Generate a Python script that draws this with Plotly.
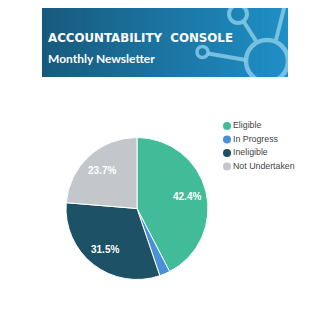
import math
import plotly.graph_objects as go

# Survey status breakdown
categories = ["Eligible", "In Progress", "Ineligible", "Not Undertaken"]
shares = [42.4, 2.4, 31.5, 23.7]
slice_colors = ["#41bb98", "#4a90d9", "#1d5266", "#c3c7cb"]

# Header banner text
title_text = "ACCOUNTABILITY  CONSOLE"
subtitle_text = "Monthly Newsletter"

W = H = 330
fig = go.Figure()

# Pie geometry in page pixels
cx, cy, r = 137, 208.5, 71
fig.add_trace(go.Pie(
    labels=categories, values=shares, sort=False, direction="clockwise",
    rotation=0, marker=dict(colors=slice_colors, line=dict(color="white", width=1)),
    textinfo="none", showlegend=False, hoverinfo="label+percent",
    domain=dict(x=[(cx - r) / W, (cx + r) / W], y=[(H - cy - r) / H, (H - cy + r) / H]),
))

# Percentage labels at 73% of the radius, on each slice's mid-angle
annotations = []
total = sum(shares)
acc = 0.0
for v in shares:
    mid = (acc + v / 2) / total * 2 * math.pi
    acc += v
    if v / total < 0.05:
        continue
    annotations.append(dict(
        text="%.1f%%" % (100 * v / total), xref="x3", yref="y3",
        x=cx + 0.73 * r * math.sin(mid), y=cy - 0.73 * r * math.cos(mid),
        showarrow=False, xanchor="center", yanchor="middle",
        font=dict(family="Liberation Sans", size=10, color="white", weight="bold"),
    ))

# Legend drawn as a marker column on a page-sized pixel axis
leg_x = 227
leg_y0, leg_dy = 126, 13.5
leg_y = [leg_y0 + i * leg_dy for i in range(len(categories))]
fig.add_trace(go.Scatter(
    x=[leg_x] * len(categories), y=leg_y,
    mode="markers", marker=dict(size=8, color=slice_colors, line=dict(width=0)),
    xaxis="x3", yaxis="y3", showlegend=False, hoverinfo="skip",
))
fig.add_trace(go.Scatter(
    x=[leg_x + 6] * len(categories), y=leg_y,
    mode="text", text=categories, textposition="middle right",
    textfont=dict(size=8.8, color="#444444", family="Liberation Sans"),
    xaxis="x3", yaxis="y3", showlegend=False, hoverinfo="skip",
))

# Banner box in pixel coordinates, gradient built from thin strips
bx0, bx1, by0, by1 = 42, 288, 8, 77
shapes = []
n = 100
c0 = (0x18, 0x5a, 0x7d)
c1 = (0x1f, 0x8f, 0xc6)
for i in range(n):
    t = i / (n - 1)
    col = tuple(round(a + (b - a) * t) for a, b in zip(c0, c1))
    xa = bx0 + (bx1 - bx0) * i / n
    xb = min(bx1, bx0 + (bx1 - bx0) * (i + 1) / n + 1.5)
    shapes.append(dict(type="rect", xref="x2", yref="y2", x0=xa, x1=xb, y0=by0, y1=by1,
                       fillcolor="rgb(%d,%d,%d)" % col, line=dict(width=0), layer="below"))

net = "rgba(135,202,230,0.85)"
# connector lines
for (xa, ya, xb, yb) in [(208, 53.5, 246, 60), (244, 22, 256, 41), (285, 4, 276, 40)]:
    shapes.append(dict(type="line", xref="x2", yref="y2", x0=xa, y0=ya, x1=xb, y1=yb,
                       line=dict(color=net, width=4), layer="below"))
# nodes
for (ncx, ncy, nr, w) in [(238, 14, 9, 4), (267, 61, 21, 4.5), (202.5, 52, 5.5, 3.5)]:
    shapes.append(dict(type="circle", xref="x2", yref="y2", x0=ncx - nr, x1=ncx + nr,
                       y0=ncy - nr, y1=ncy + nr, fillcolor="rgba(0,0,0,0)",
                       line=dict(color=net, width=w), layer="below"))

annotations += [
    dict(text=title_text, x=46, y=37.5, xref="x2", yref="y2", xanchor="left", yanchor="middle",
         showarrow=False, font=dict(family="DejaVu Sans", size=11.8, color="white", weight="bold")),
    dict(text=subtitle_text, x=46, y=58, xref="x2", yref="y2", xanchor="left", yanchor="middle",
         showarrow=False, font=dict(family="Lato", size=12, color="white", weight="bold")),
]

hidden = dict(visible=False, showgrid=False, zeroline=False, fixedrange=True)
fig.update_layout(
    width=W, height=H, margin=dict(l=0, r=0, t=0, b=0),
    paper_bgcolor="white", plot_bgcolor="rgba(0,0,0,0)",
    xaxis2=dict(hidden, domain=[bx0 / W, bx1 / W], range=[bx0, bx1], anchor="y2"),
    yaxis2=dict(hidden, domain=[1 - by1 / H, 1 - by0 / H], range=[by1, by0], anchor="x2"),
    xaxis3=dict(hidden, domain=[0, 1], range=[0, W], anchor="y3"),
    yaxis3=dict(hidden, domain=[0, 1], range=[H, 0], anchor="x3"),
    shapes=shapes, annotations=annotations, showlegend=False,
)
fig.write_html("out.html")
